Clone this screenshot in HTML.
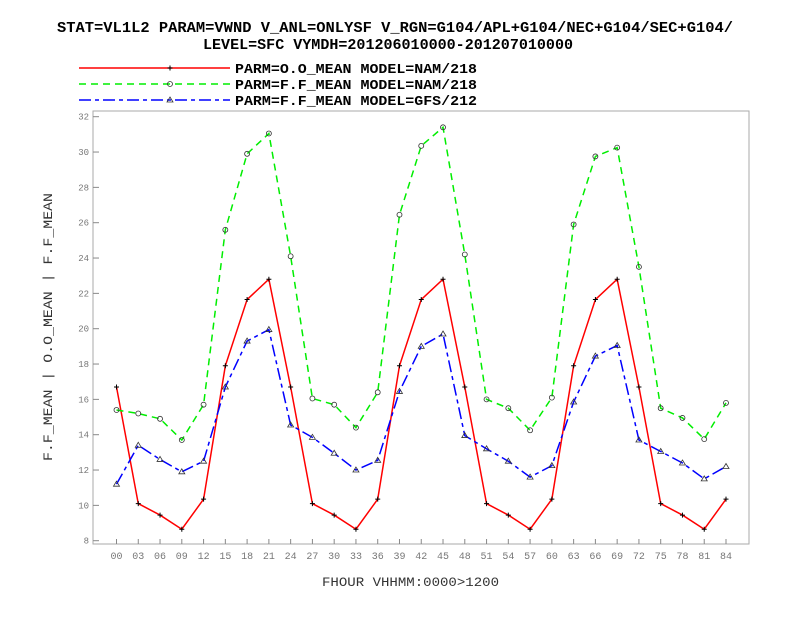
<!DOCTYPE html>
<html><head><meta charset="utf-8"><style>
body{margin:0;background:#fff;}
svg text{font-family:"Liberation Mono",monospace;}
</style></head><body>
<svg id="chart" width="792" height="612" xmlns="http://www.w3.org/2000/svg">
<rect width="792" height="612" fill="#fff"/>
<text x="57" y="32" font-size="15" font-weight="bold" textLength="676" lengthAdjust="spacingAndGlyphs">STAT=VL1L2 PARAM=VWND V_ANL=ONLYSF V_RGN=G104/APL+G104/NEC+G104/SEC+G104/</text>
<text x="203" y="49" font-size="15" font-weight="bold" textLength="370" lengthAdjust="spacingAndGlyphs">LEVEL=SFC VYMDH=201206010000-201207010000</text>
<g id="legend"></g>
<rect x="93" y="111" width="656" height="433" fill="none" stroke="#aaa" stroke-width="1"/>
<g id="axes"></g>
<g id="series"></g>
<text x="322" y="586" font-size="13" fill="#333" textLength="177" lengthAdjust="spacingAndGlyphs">FHOUR VHHMM:0000&gt;1200</text>
<text transform="translate(52,327) rotate(-90)" text-anchor="middle" font-size="13" fill="#333" textLength="268" lengthAdjust="spacingAndGlyphs">F.F_MEAN | O.O_MEAN | F.F_MEAN</text>
</svg>
<script>
const categories=["00","03","06","09","12","15","18","21","24","27","30","33","36","39","42","45","48","51","54","57","60","63","66","69","72","75","78","81","84"];
const obsNam=[16.7,10.1,9.45,8.65,10.35,17.9,21.65,22.8,16.7,10.1,9.45,8.65,10.35,17.9,21.65,22.8,16.7,10.1,9.45,8.65,10.35,17.9,21.65,22.8,16.7,10.1,9.45,8.65,10.35];
const fcstNam=[15.4,15.2,14.9,13.7,15.7,25.6,29.9,31.05,24.1,16.05,15.7,14.4,16.4,26.45,30.35,31.4,24.2,16.0,15.5,14.25,16.1,25.9,29.75,30.25,23.5,15.5,14.95,13.75,15.8];
const fcstGfs=[11.2,13.4,12.6,11.9,12.5,16.7,19.3,19.95,14.55,13.85,12.95,12.0,12.55,16.45,19.0,19.7,13.95,13.2,12.5,11.6,12.25,15.85,18.45,19.05,13.7,13.05,12.4,11.5,12.2];
const yTicks=[8,10,12,14,16,18,20,22,24,26,28,30,32];
const legendLabels=["PARM=O.O_MEAN MODEL=NAM/218","PARM=F.F_MEAN MODEL=NAM/218","PARM=F.F_MEAN MODEL=GFS/212"];

const NS="http://www.w3.org/2000/svg";
const x=i=>116.5+i*(726-116.5)/28;
const y=v=>116.7+(32-v)*(540.7-116.7)/24;
function mk(tag,parent,attrs){const e=document.createElementNS(NS,tag);for(const k in attrs)e.setAttribute(k,attrs[k]);parent.appendChild(e);return e;}
const axes=document.getElementById('axes'),series=document.getElementById('series'),legend=document.getElementById('legend');
yTicks.forEach(t=>{
  const l=mk('line',axes,{x1:93,x2:99,y1:y(t),y2:y(t),stroke:'#888'});
  
  
  const tx=mk('text',axes,{x:89,y:y(t)+3,'font-size':9,fill:'#777','text-anchor':'end'});
  tx.textContent=t;
  
  
});
categories.forEach((c,i)=>{
  const l=mk('line',axes,{x1:x(i),x2:x(i),y1:544,y2:539,stroke:'#888'});
  
  
  const tx=mk('text',axes,{x:x(i),y:559,'font-size':10,fill:'#777','text-anchor':'middle'});
  tx.textContent=c;
  
  
});
const styles=[
 {data:obsNam,color:'#ff0000',dash:'',marker:'plus',name:'obs-nam'},
 {data:fcstNam,color:'#00ee00',dash:'7,5',marker:'circle',name:'fcst-nam'},
 {data:fcstGfs,color:'#0000ff',dash:'12,4,4,4',marker:'tri',name:'fcst-gfs'}];
function marker(g,type,cx,cy){
  if(type==='plus'){mk('path',g,{d:`M${cx-2.5},${cy}h5M${cx},${cy-2.5}v5`,stroke:'#000','stroke-width':1});}
  else if(type==='circle'){mk('circle',g,{cx:cx,cy:cy,r:2.5,fill:'none',stroke:'#333','stroke-width':0.8});}
  else{mk('path',g,{d:`M${cx},${cy-3}L${cx+3},${cy+2}L${cx-3},${cy+2}Z`,fill:'none',stroke:'#333','stroke-width':0.8});}
}
styles.forEach((s,k)=>{
  const p=mk('polyline',series,{points:s.data.map((v,i)=>x(i)+','+y(v)).join(' '),fill:'none',stroke:s.color,'stroke-width':1.5,'stroke-dasharray':s.dash});
  
  
  s.data.forEach((v,i)=>marker(series,s.marker,x(i),y(v)));
  const ly=68+k*16;
  const ll=mk('line',legend,{x1:79,x2:230,y1:ly,y2:ly,stroke:s.color,'stroke-width':1.5,'stroke-dasharray':s.dash});
  
  
  marker(legend,s.marker,170,ly);
  const lt=mk('text',legend,{x:235,y:ly+5,'font-size':14,'font-weight':'bold',textLength:242,lengthAdjust:'spacingAndGlyphs'});
  lt.textContent=legendLabels[k];
  
  
});
</script>
</body></html>
